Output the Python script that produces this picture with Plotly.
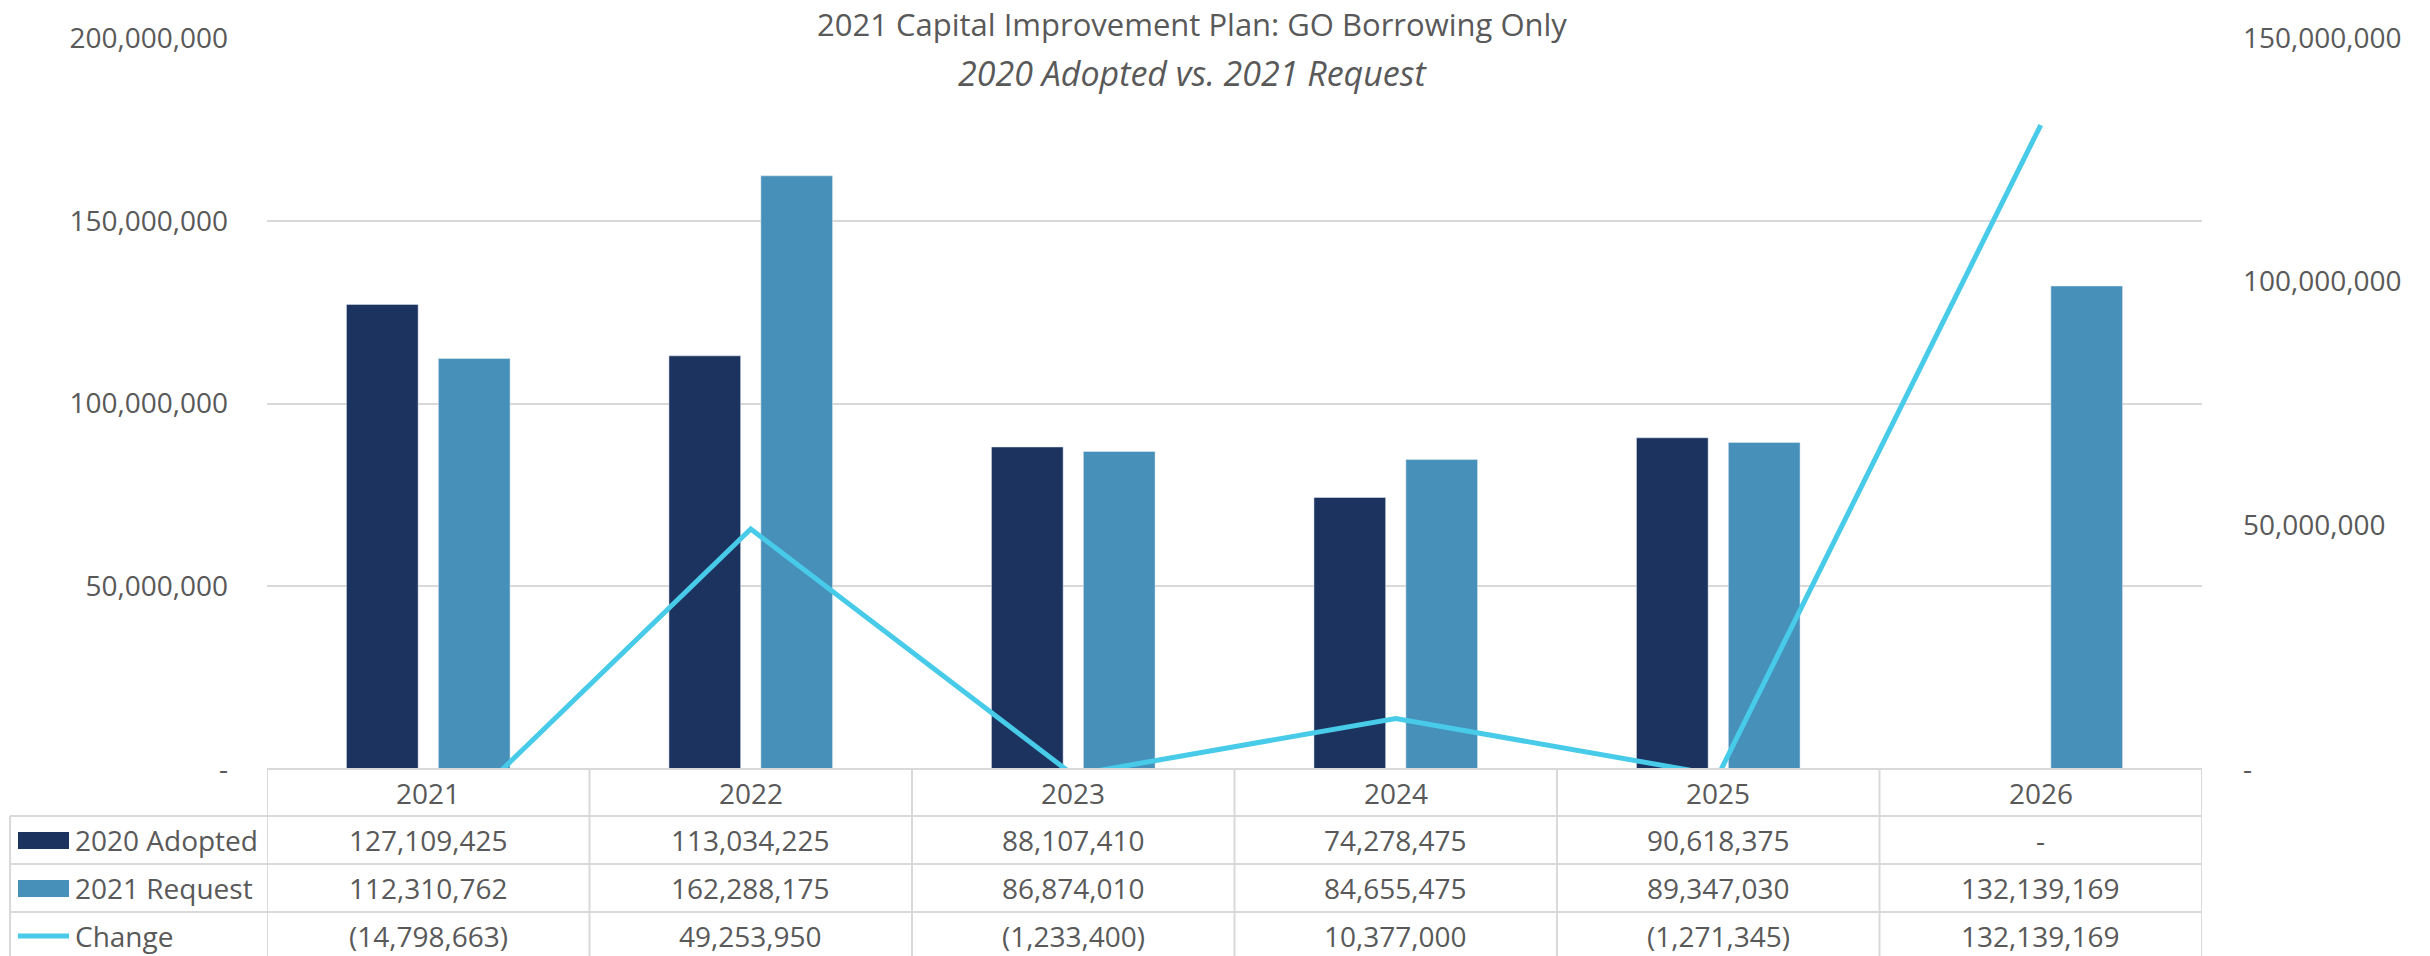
import plotly.graph_objects as go

years = ["2021", "2022", "2023", "2024", "2025", "2026"]
adopted_2020 = [127109425, 113034225, 88107410, 74278475, 90618375, 0]
request_2021 = [112310762, 162288175, 86874010, 84655475, 89347030, 132139169]
change = [-14798663, 49253950, -1233400, 10377000, -1271345, 132139169]

series_names = ["2020 Adopted", "2021 Request", "Change"]
left_ticks = [0, 50000000, 100000000, 150000000, 200000000]
right_ticks = [0, 50000000, 100000000, 150000000]

DARK = "#1c325f"
LIGHT = "#4690ba"
LINE = "#47cbe8"
TXT = "#595959"
GRID = "#d9d9d9"
FONT = "Open Sans"
FS = 28

W, H = 2430, 956
L, R, T, B = 267, 2202, 38, 769
PW, PH = R - L, B - T


def px_x(px):
    return (px - L) / PW


def px_y(py):
    return (B - py) / PH


def fmt(v):
    if v == 0:
        return "-"
    if v < 0:
        return "({:,})".format(-v)
    return "{:,}".format(v)


fig = go.Figure()
fig.add_trace(go.Bar(x=years, y=[v if v else None for v in adopted_2020],
                     name=series_names[0], marker_color=DARK, yaxis="y"))
fig.add_trace(go.Bar(x=years, y=request_2021, name=series_names[1],
                     marker_color=LIGHT, yaxis="y"))
fig.add_trace(go.Scatter(x=years, y=change, name=series_names[2], mode="lines",
                         line=dict(color=LINE, width=5), yaxis="y2"))

annotations = []
shapes = []

# titles
annotations.append(dict(text="2021 Capital Improvement Plan: GO Borrowing Only",
                        x=px_x(1192), y=px_y(24), xref="paper", yref="paper",
                        showarrow=False, xanchor="center", yanchor="middle",
                        font=dict(family=FONT, size=31, color=TXT)))
annotations.append(dict(text="<i>2020 Adopted vs. 2021 Request</i>",
                        x=px_x(1192), y=px_y(73), xref="paper", yref="paper",
                        showarrow=False, xanchor="center", yanchor="middle",
                        font=dict(family=FONT, size=34, color=TXT)))

# data table
row_edges = [769, 816, 864, 912, 960]
table_left = 10
rows = [adopted_2020, request_2021, change]
for i, yr in enumerate(years):
    annotations.append(dict(text=yr, x=i, xref="x", yref="paper",
                            y=px_y((row_edges[0] + row_edges[1]) / 2),
                            showarrow=False, xanchor="center", yanchor="middle",
                            font=dict(family=FONT, size=FS, color=TXT)))
    for r, vals in enumerate(rows):
        annotations.append(dict(text=fmt(vals[i]), x=i, xref="x", yref="paper",
                                y=px_y((row_edges[r + 1] + row_edges[r + 2]) / 2),
                                showarrow=False, xanchor="center", yanchor="middle",
                                font=dict(family=FONT, size=FS, color=TXT)))

for r, name in enumerate(series_names):
    yc = (row_edges[r + 1] + row_edges[r + 2]) / 2
    annotations.append(dict(text=name, x=px_x(73), y=px_y(yc), xref="paper", yref="paper",
                            showarrow=False, xanchor="left", yanchor="middle",
                            font=dict(family=FONT, size=FS, color=TXT)))
    if r < 2:
        shapes.append(dict(type="rect", xref="paper", yref="paper",
                           x0=px_x(18), x1=px_x(69), y0=px_y(yc - 8), y1=px_y(yc + 9),
                           fillcolor=[DARK, LIGHT][r], line=dict(width=0)))
    else:
        shapes.append(dict(type="line", xref="paper", yref="paper",
                           x0=px_x(18), x1=px_x(69), y0=px_y(yc), y1=px_y(yc),
                           line=dict(color=LINE, width=5)))

# horizontal table lines
shapes.append(dict(type="line", xref="paper", yref="paper", x0=0, x1=1,
                   y0=px_y(row_edges[0]), y1=px_y(row_edges[0]),
                   line=dict(color=GRID, width=2)))
for e in row_edges[1:4]:
    shapes.append(dict(type="line", xref="paper", yref="paper", x0=px_x(table_left), x1=1,
                       y0=px_y(e), y1=px_y(e), line=dict(color=GRID, width=2)))
# vertical table lines
for i in range(len(years) + 1):
    shapes.append(dict(type="line", xref="x", yref="paper", x0=i - 0.5, x1=i - 0.5,
                       y0=px_y(row_edges[0]), y1=px_y(row_edges[-1]),
                       line=dict(color=GRID, width=2)))
shapes.append(dict(type="line", xref="paper", yref="paper", x0=px_x(table_left), x1=px_x(table_left),
                   y0=px_y(row_edges[1]), y1=px_y(row_edges[-1]),
                   line=dict(color=GRID, width=2)))

fig.update_layout(
    width=W, height=H,
    margin=dict(l=L, r=W - R, t=T, b=H - B, pad=0),
    paper_bgcolor="white", plot_bgcolor="white",
    showlegend=False,
    barmode="group", bargap=0.43, bargroupgap=0.22,
    font=dict(family=FONT, size=FS, color=TXT),
    xaxis=dict(type="category", range=[-0.5, 5.5], showticklabels=False,
               showgrid=False, zeroline=False, showline=False, ticks=""),
    yaxis=dict(range=[0, 200000000], tickvals=left_ticks,
               ticktext=[fmt(v) for v in left_ticks],
               showgrid=True, gridcolor=GRID, gridwidth=2, zeroline=False,
               showline=False, ticks="", ticklabelstandoff=38,
               tickfont=dict(family=FONT, size=FS, color=TXT)),
    yaxis2=dict(range=[0, 150000000], overlaying="y", side="right",
                tickvals=right_ticks, ticktext=[fmt(v) for v in right_ticks],
                showgrid=False, zeroline=False, showline=False, ticks="",
                ticklabelstandoff=40,
                tickfont=dict(family=FONT, size=FS, color=TXT)),
    annotations=annotations,
    shapes=shapes,
)

fig.write_html("out.html")
